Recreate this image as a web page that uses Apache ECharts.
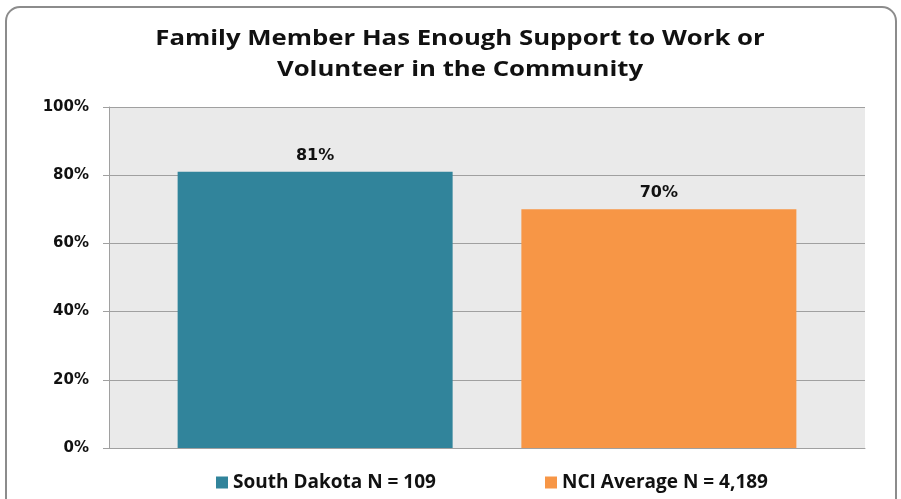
<!DOCTYPE html>
<html>
<head>
<meta charset="utf-8">
<script src="https://cdn.jsdelivr.net/npm/echarts@6/dist/echarts.min.js"></script>
<style>
  html, body { margin: 0; padding: 0; background: #fff; }
  #chart { width: 901px; height: 499px; }
</style>
</head>
<body>
<div id="chart"></div>
<script>
// data
const titleLines = ['Family Member Has Enough Support to Work or', 'Volunteer in the Community']
const seriesNames = ['South Dakota N = 109', 'NCI Average N = 4,189']
const seriesValues = [81, 70]
const seriesColors = ['#31849B', '#F79646']
const yTicks = [0, 20, 40, 60, 80, 100]

const chart = echarts.init(document.getElementById('chart'))

// the original title is a little stretched sideways, so draw it as scaled text
const titleTexts = titleLines.map((line, i) => ({
  type: 'text',
  x: 460,
  y: 39 + i * 31,
  scaleX: 1.17,
  style: {
    text: line,
    font: 'bold 22px "Open Sans"',
    fill: '#111',
    textAlign: 'center',
    textVerticalAlign: 'middle'
  },
  silent: true
}))

const option = {
  backgroundColor: '#fff',
  animation: false,
  graphic: [{
    // rounded frame round the whole chart
    type: 'rect',
    shape: { x: 6, y: 7, width: 890, height: 520, r: 14 },
    style: { fill: 'none', stroke: '#8c8c8c', lineWidth: 2 },
    silent: true
  }].concat(titleTexts),
  legend: [
    {
      data: [seriesNames[0]],
      left: 211, top: 468,
      icon: 'rect', itemWidth: 12, itemHeight: 12, itemGap: 8,
      textStyle: { fontFamily: 'Open Sans', fontWeight: 'bold', fontSize: 19, color: '#111' }
    },
    {
      data: [seriesNames[1]],
      left: 540, top: 468,
      icon: 'rect', itemWidth: 12, itemHeight: 12, itemGap: 8,
      textStyle: { fontFamily: 'Open Sans', fontWeight: 'bold', fontSize: 19, color: '#111' }
    }
  ],
  grid: {
    left: 109, right: 36, top: 107, bottom: 51,
    show: true, backgroundColor: '#EAEAEA', borderWidth: 0
  },
  xAxis: {
    type: 'category',
    data: [''],
    axisLine: { show: true, lineStyle: { color: '#a0a0a0', width: 1 } },
    axisTick: { show: false },
    axisLabel: { show: false }
  },
  yAxis: {
    type: 'value',
    min: yTicks[0],
    max: yTicks[yTicks.length - 1],
    interval: 20,
    axisLine: { show: true, lineStyle: { color: '#a0a0a0', width: 1 } },
    axisTick: { show: true, length: 6, lineStyle: { color: '#a0a0a0' } },
    splitLine: { show: true, lineStyle: { color: '#a0a0a0', width: 1 } },
    axisLabel: {
      formatter: '{value}%',
      margin: 20,
      fontFamily: 'DejaVu Sans',
      fontWeight: 'bold',
      fontSize: 15,
      color: '#111'
    }
  },
  series: seriesNames.map((name, i) => ({
    name: name,
    type: 'bar',
    data: [seriesValues[i]],
    barWidth: 275,
    barGap: '25%',
    itemStyle: { color: seriesColors[i] },
    label: {
      show: true,
      position: 'top',
      distance: 8,
      formatter: '{c}%',
      fontFamily: 'DejaVu Sans',
      fontWeight: 'bold',
      fontSize: 16,
      color: '#111'
    }
  }))
}

chart.setOption(option)
</script>
</body>
</html>
